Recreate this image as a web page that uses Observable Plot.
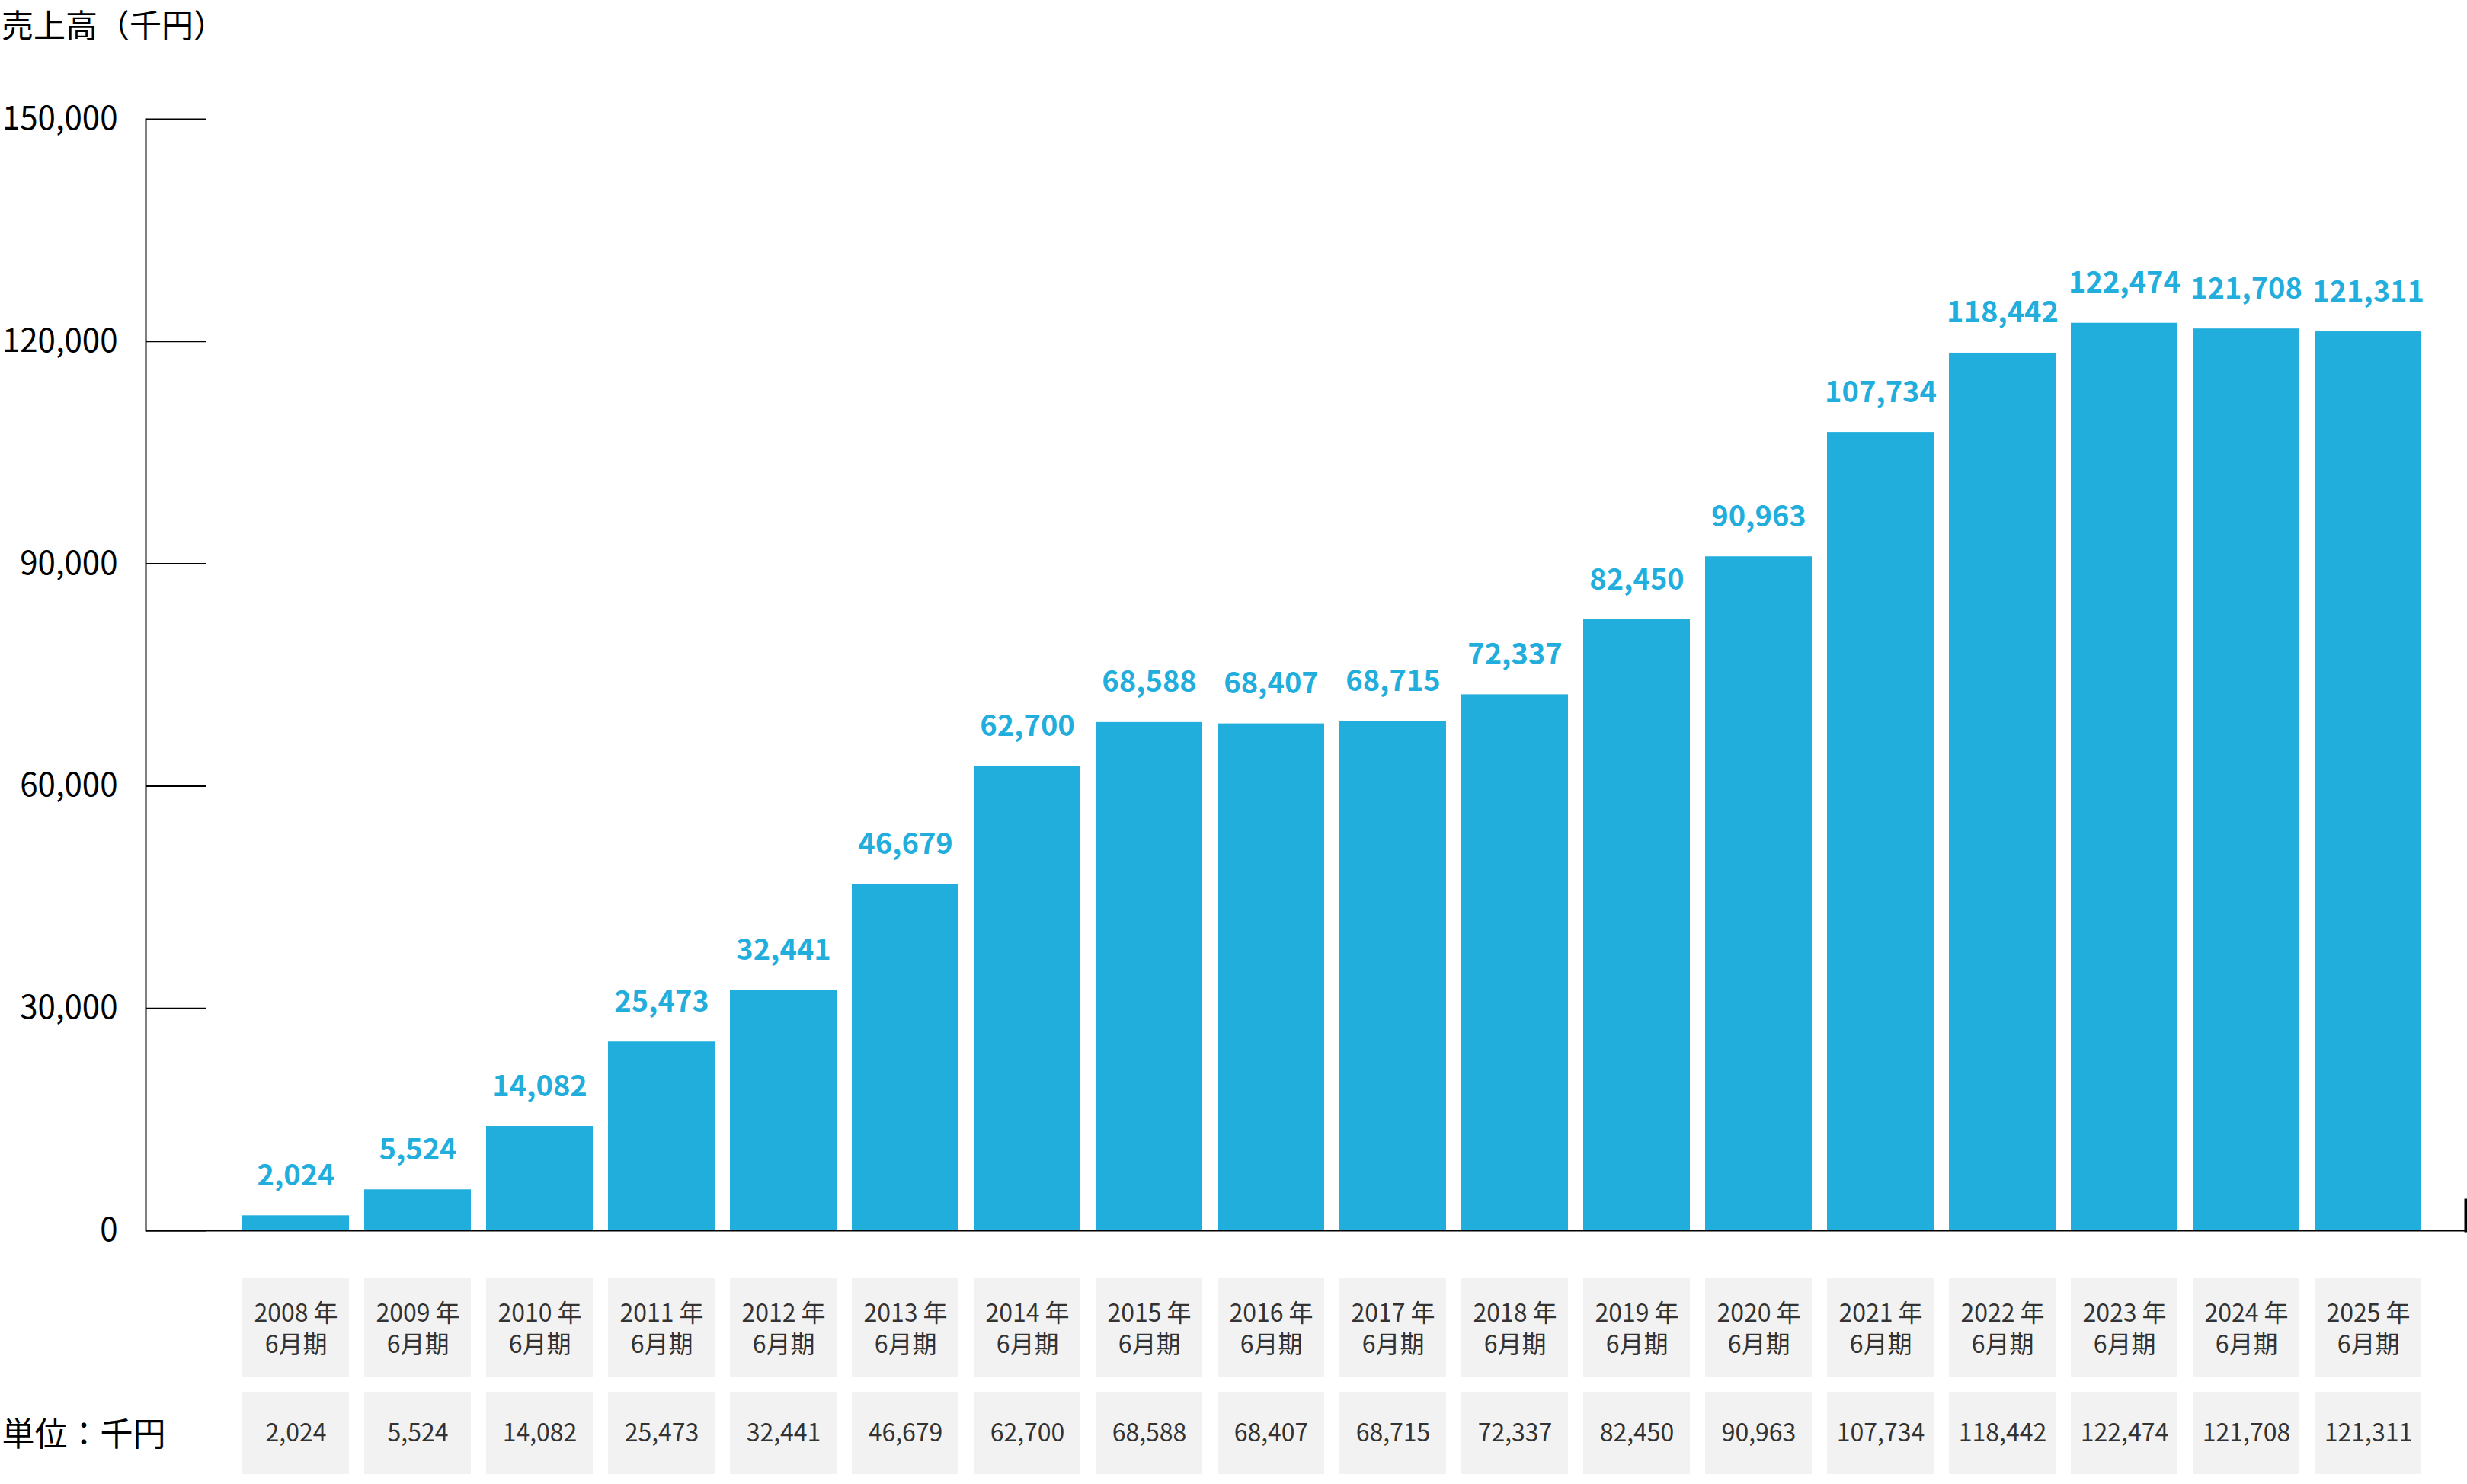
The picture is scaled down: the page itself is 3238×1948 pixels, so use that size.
<!DOCTYPE html>
<html lang="ja">
<head>
<meta charset="utf-8">
<script src="https://cdn.jsdelivr.net/npm/d3@7"></script>
<script src="https://cdn.jsdelivr.net/npm/@observablehq/plot@0.6"></script>
<style>
  html, body { margin: 0; padding: 0; background: #fff; }
  #wrap { position: relative; width: 3238px; height: 1948px; overflow: hidden; font-family: "Noto Sans CJK JP", "Noto Sans", sans-serif; background: #fff; }
  #title { position: absolute; left: 2px; top: 0; z-index: 5; font-size: 42px; line-height: normal; color: #000; white-space: nowrap; }
  .abs { position: absolute; left: 0; }
  svg { display: block; }
</style>
</head>
<body>
<div id="wrap">
  <div id="main" class="abs" style="top:0"></div>
  <div id="row1" class="abs" style="top:1677px"></div>
  <div id="row2" class="abs" style="top:1827px"></div>
  <div id="title"></div>
</div>
<script>
// ---- data ----
const years = ["2008","2009","2010","2011","2012","2013","2014","2015","2016","2017","2018","2019","2020","2021","2022","2023","2024","2025"];
const sales = [2024, 5524, 14082, 25473, 32441, 46679, 62700, 68588, 68407, 68715, 72337, 82450, 90963, 107734, 118442, 122474, 121708, 121311];
const yTicks = [0, 30000, 60000, 90000, 120000, 150000];
const titleText = "売上高（千円）";
const unitText = "単位：千円";
const periodSuffix = "6月期";

document.getElementById("title").textContent = titleText;

const data = years.map((y, i) => ({year: y, value: sales[i]}));
const fmt = d3.format(",");
const font = "Noto Sans CJK JP";
const blue = "#22AEDC";

const W = 3238;
const xScale = {domain: years, range: [308, 3188], paddingInner: 0.125, paddingOuter: 0.0625, axis: null};

// ---- main chart ----
const mainH = 1660, mTop = 156, mBottom = 45, mLeft = 191;
const main = Plot.plot({
  width: W, height: mainH,
  marginTop: mTop, marginBottom: mBottom, marginLeft: mLeft, marginRight: 0,
  style: {fontFamily: font, background: "transparent", overflow: "visible"},
  x: xScale,
  y: {domain: [0, 150000], axis: null},
  marks: [
    Plot.barY(data, {x: "year", y: "value", fill: blue}),
    Plot.text(data, {x: "year", y: "value", text: d => fmt(d.value), lineAnchor: "bottom", dy: -40,
      fill: blue, fontSize: 38, fontWeight: "bold"}),
    Plot.axisY({ticks: yTicks, tickSize: 0, tickPadding: 37, tickFormat: fmt, fontSize: 42, fill: "#000", label: null}),
    Plot.axisY({ticks: yTicks, tickSize: 80, dx: 80, fill: "none", stroke: "#000", strokeWidth: 2, label: null}),
    Plot.frame({anchor: "left", stroke: "#000", strokeWidth: 2}),
    Plot.ruleY([0], {stroke: "#000", strokeWidth: 2}),
    Plot.frame({anchor: "right", stroke: "#000", strokeWidth: 4, insetRight: 2, insetTop: (mainH - mTop - mBottom) - 40})
  ]
});
document.getElementById("main").append(main);

// ---- table row 1 (periods) ----
const row1 = Plot.plot({
  width: W, height: 130,
  marginTop: 0, marginBottom: 0, marginLeft: 0, marginRight: 0,
  style: {fontFamily: font, background: "transparent"},
  x: xScale,
  marks: [
    Plot.cell(years, {x: d => d, fill: "#F2F2F2"}),
    Plot.text(years, {x: d => d, text: d => `${d} 年\n${periodSuffix}`, frameAnchor: "middle", lineAnchor: "middle",
      lineHeight: 1.28, fontSize: 32, fill: "#333"})
  ]
});
document.getElementById("row1").append(row1);

// ---- table row 2 (values) ----
const row2 = Plot.plot({
  width: W, height: 108,
  marginTop: 0, marginBottom: 0, marginLeft: 0, marginRight: 0,
  style: {fontFamily: font, background: "transparent", overflow: "visible"},
  x: xScale,
  marks: [
    Plot.cell(data, {x: "year", fill: "#F2F2F2"}),
    Plot.text(data, {x: "year", text: d => fmt(d.value), frameAnchor: "middle", fontSize: 32, fill: "#333"}),
    Plot.text([unitText], {frameAnchor: "left", textAnchor: "start", fontSize: 43, fill: "#000", dx: 2, dy: 3})
  ]
});
document.getElementById("row2").append(row2);
</script>
</body>
</html>
